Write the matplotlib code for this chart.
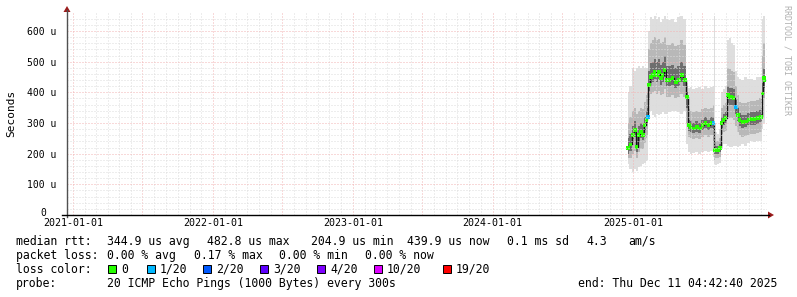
import matplotlib
matplotlib.use("Agg")
import matplotlib.pyplot as plt
from matplotlib.lines import Line2D
from matplotlib.patches import Polygon, Rectangle
from matplotlib.transforms import ScaledTranslation
import pandas as pd

# ---------------- data (microseconds) ----------------
dates = [
    "2024-12-19", "2024-12-26", "2025-01-01", "2025-01-06", "2025-01-11", "2025-01-16",
    "2025-01-22", "2025-01-27", "2025-02-01", "2025-02-06", "2025-02-09",
    "2025-02-12", "2025-02-17", "2025-02-22", "2025-02-27", "2025-03-05", "2025-03-10",
    "2025-03-15", "2025-03-20", "2025-03-25", "2025-03-31", "2025-04-07", "2025-04-15",
    "2025-04-23", "2025-05-01", "2025-05-09", "2025-05-17",
    "2025-05-22", "2025-05-27", "2025-06-01", "2025-06-09", "2025-06-17", "2025-06-25",
    "2025-07-02", "2025-07-10", "2025-07-18", "2025-07-26",
    "2025-07-31", "2025-08-03", "2025-08-05", "2025-08-11", "2025-08-16",
    "2025-08-21", "2025-08-26", "2025-08-31",
    "2025-09-06", "2025-09-11", "2025-09-16", "2025-09-21",
    "2025-09-27", "2025-10-02", "2025-10-07", "2025-10-15", "2025-10-23", "2025-10-30",
    "2025-11-07", "2025-11-15", "2025-11-23", "2025-12-01",
    "2025-12-06", "2025-12-09", "2025-12-11",
]
median_rtt = [
    218, 230, 261, 277, 222, 261, 270, 261, 293, 310, 320,
    424, 450, 456, 466, 456, 466, 447, 456, 473, 440, 440, 447, 434, 440, 456, 440,
    385, 293, 287, 283, 287, 283, 293, 300, 293, 300,
    300, 212, 212, 212, 218,
    300, 310, 316,
    391, 385, 385, 381,
    352, 326, 310, 303, 305, 310, 313, 313, 316, 320,
    397, 447, 440,
]
smoke_min = [
    165, 150, 140, 150, 145, 155, 160, 165, 170, 175, 180,
    330, 340, 325, 320, 330, 325, 330, 335, 330, 330, 335, 340, 340, 335, 330, 340,
    230, 205, 200, 202, 205, 200, 205, 210, 205, 210,
    190, 165, 163, 165, 170,
    225, 230, 230,
    225, 222, 222, 225,
    225, 222, 225, 230, 225, 235, 240, 238, 240, 240,
    280, 300, 300,
]
smoke_max = [
    400, 420, 480, 470, 480, 485, 480, 485, 480, 480, 480,
    600, 645, 640, 650, 640, 645, 630, 640, 650, 640, 635, 640, 630, 645, 650, 640,
    430, 415, 417, 410, 415, 417, 410, 420, 415, 417,
    420, 650, 270, 265, 280,
    400, 410, 420,
    570, 577, 560, 555,
    470, 450, 445, 440, 450, 445, 445, 440, 450, 450,
    640, 650, 650,
]
smoke_lo_mid = [
    185, 185, 200, 210, 185, 205, 215, 215, 235, 250, 260,
    375, 395, 400, 405, 395, 405, 390, 395, 410, 385, 385, 390, 380, 385, 395, 385,
    300, 255, 250, 248, 250, 248, 255, 260, 255, 260,
    240, 180, 185, 185, 190,
    265, 270, 275,
    320, 315, 315, 310,
    290, 270, 260, 255, 258, 262, 265, 265, 268, 272,
    330, 380, 380,
]
smoke_hi_mid = [
    300, 320, 340, 350, 330, 340, 350, 345, 370, 390, 400,
    540, 560, 570, 580, 570, 575, 560, 565, 580, 555, 555, 560, 550, 555, 570, 555,
    420, 345, 340, 335, 340, 335, 345, 350, 345, 350,
    360, 280, 240, 240, 250,
    350, 360, 365,
    480, 475, 470, 465,
    420, 390, 370, 365, 365, 370, 372, 372, 375, 380,
    520, 560, 560,
]
smoke_lo_core = [
    200, 210, 240, 255, 205, 240, 250, 245, 270, 290, 300,
    405, 430, 435, 445, 435, 445, 425, 435, 450, 420, 420, 425, 415, 420, 435, 420,
    350, 275, 270, 268, 270, 268, 278, 285, 278, 285,
    280, 200, 200, 200, 205,
    285, 295, 300,
    365, 360, 360, 355,
    330, 305, 290, 285, 287, 292, 295, 295, 298, 302,
    370, 420, 415,
]
smoke_hi_core = [
    250, 265, 290, 305, 260, 290, 300, 295, 320, 340, 350,
    470, 495, 500, 510, 500, 510, 490, 500, 520, 485, 485, 490, 480, 485, 500, 485,
    400, 310, 305, 300, 305, 300, 310, 318, 310, 318,
    320, 230, 225, 225, 232,
    320, 330, 335,
    420, 415, 415, 410,
    375, 350, 332, 325, 327, 332, 335, 335, 338, 342,
    430, 480, 475,
]
loss = [0] * len(dates)
loss[dates.index("2025-02-09")] = 1
loss[dates.index("2025-07-31")] = 1
loss[dates.index("2025-09-27")] = 1

loss_levels = ["0", "1/20", "2/20", "3/20", "4/20", "10/20", "19/20"]
loss_colors = ["#26ff00", "#00b8ff", "#0059ff", "#5e00ff", "#7e00ff", "#dd00ff", "#ff0000"]

y_ticks = [0, 100, 200, 300, 400, 500, 600]
y_ticklabels = ["0", "100 u", "200 u", "300 u", "400 u", "500 u", "600 u"]
x_tick_years = ["2021-01-01", "2022-01-01", "2023-01-01", "2024-01-01", "2025-01-01"]

# ---------------- figure ----------------
W, H = 797, 297
MONO = "DejaVu Sans Mono"
fig = plt.figure(figsize=(W / 100, H / 100), dpi=100)
fig.patch.set_facecolor("white")
L, R, T, B = 67, 767, 12.6, 215
ax = fig.add_axes([L / W, 1 - B / H, (R - L) / W, (B - T) / H])
ax.set_facecolor("white")

t = pd.to_datetime(dates)
x_start, x_end = pd.Timestamp("2020-12-16"), pd.Timestamp("2025-12-17")
ax.set_xlim(x_start, x_end)
ax.set_ylim(0, 660)

# smoke
for lo, hi, col in [(smoke_min, smoke_max, "#dedede"),
                    (smoke_lo_mid, smoke_hi_mid, "#b8b8b8"),
                    (smoke_lo_core, smoke_hi_core, "#6e6e6e")]:
    ax.fill_between(t, lo, hi, step="mid", color=col, lw=0, zorder=1)

# median
ax.plot(t, median_rtt, drawstyle="steps-mid", color="#151515", lw=1.0, zorder=3)
ax.scatter(t, median_rtt, marker="s", s=6, c=[loss_colors[l] for l in loss],
           linewidths=0, zorder=4)

# grid (drawn on top, as rrdtool does)
dot = (0, (1, 2))
minor_col, major_col = "#dcdcdc", "#f2b4b4"
for m in pd.date_range("2021-01-01", "2025-12-01", freq="MS"):
    major = m.month in (1, 7)
    ax.axvline(m, color=major_col if major else minor_col, lw=0.72, ls=dot, zorder=5)
for v in range(20, 660, 20):
    major = v % 100 == 0
    ax.axhline(v, color=major_col if major else minor_col, lw=0.72, ls=dot, zorder=5)

for s in ax.spines.values():
    s.set_visible(False)

ax.set_yticks(y_ticks)
ax.set_yticklabels(y_ticklabels, fontfamily=MONO, fontsize=7)
ax.set_xticks(pd.to_datetime(x_tick_years))
ax.set_xticklabels(x_tick_years, fontfamily=MONO, fontsize=7.2)
ax.tick_params(axis="y", length=0, pad=8)
ax.tick_params(axis="x", length=0, pad=2)
zero_lbl = ax.get_yticklabels()[0]
zero_lbl.set_transform(zero_lbl.get_transform() +
                       ScaledTranslation(-10 / 100, 3 / 100, fig.dpi_scale_trans))

# axes with arrows
def fx(x):
    return x / W

def fy(y):
    return 1 - y / H

fig.add_artist(Line2D([fx(67), fx(67)], [fy(217), fy(10)], color="#505050", lw=1))
fig.add_artist(Line2D([fx(62), fx(769)], [fy(215), fy(215)], color="#000000", lw=1))
arrow_col = "#9b1b1b"
fig.add_artist(Polygon([[fx(67), fy(6)], [fx(63.5), fy(12)], [fx(70.5), fy(12)]],
                       closed=True, color=arrow_col, lw=0))
fig.add_artist(Polygon([[fx(774), fy(215)], [fx(768), fy(211.5)], [fx(768), fy(218.5)]],
                       closed=True, color=arrow_col, lw=0))

# labels
fig.text(fx(11), fy(113), "Seconds", rotation=90, ha="center", va="center",
         fontfamily=MONO, fontsize=8)
fig.text(fx(787), fy(5), "RRDTOOL / TOBI OETIKER", rotation=-90, ha="center", va="top",
         fontfamily=MONO, fontsize=6, color="#b0b0b0")

def ftext(x, y, s):
    fig.text(fx(x), fy(y), s, ha="left", va="baseline", fontfamily=MONO,
             fontsize=8.3, color="black")

# legend row 1
for x, s in [(16, "median rtt:"), (107, "344.9 us avg"), (207, "482.8 us max"),
             (311, "204.9 us min"), (407, "439.9 us now"), (507, "0.1 ms sd"),
             (586, "4.3"), (628, "am/s")]:
    ftext(x, 245, s)
# row 2
for x, s in [(16, "packet loss:"), (107, "0.00 % avg"), (194, "0.17 % max"),
             (279, "0.00 % min"), (365, "0.00 % now")]:
    ftext(x, 259, s)
# row 3
ftext(16, 273, "loss color:")
box_x = [108, 147, 203, 260, 317, 374, 443]
for bx, lvl, col in zip(box_x, loss_levels, loss_colors):
    fig.add_artist(Rectangle((fx(bx), fy(273)), 8 / W, 8 / H, facecolor=col,
                             edgecolor="black", lw=0.7))
    ftext(bx + 13, 273, lvl)
# row 4
ftext(16, 287, "probe:")
ftext(107, 287, "20 ICMP Echo Pings (1000 Bytes) every 300s")
ftext(578, 287, "end: Thu Dec 11 04:42:40 2025")

fig.savefig("out.png", dpi=100, facecolor="white")
